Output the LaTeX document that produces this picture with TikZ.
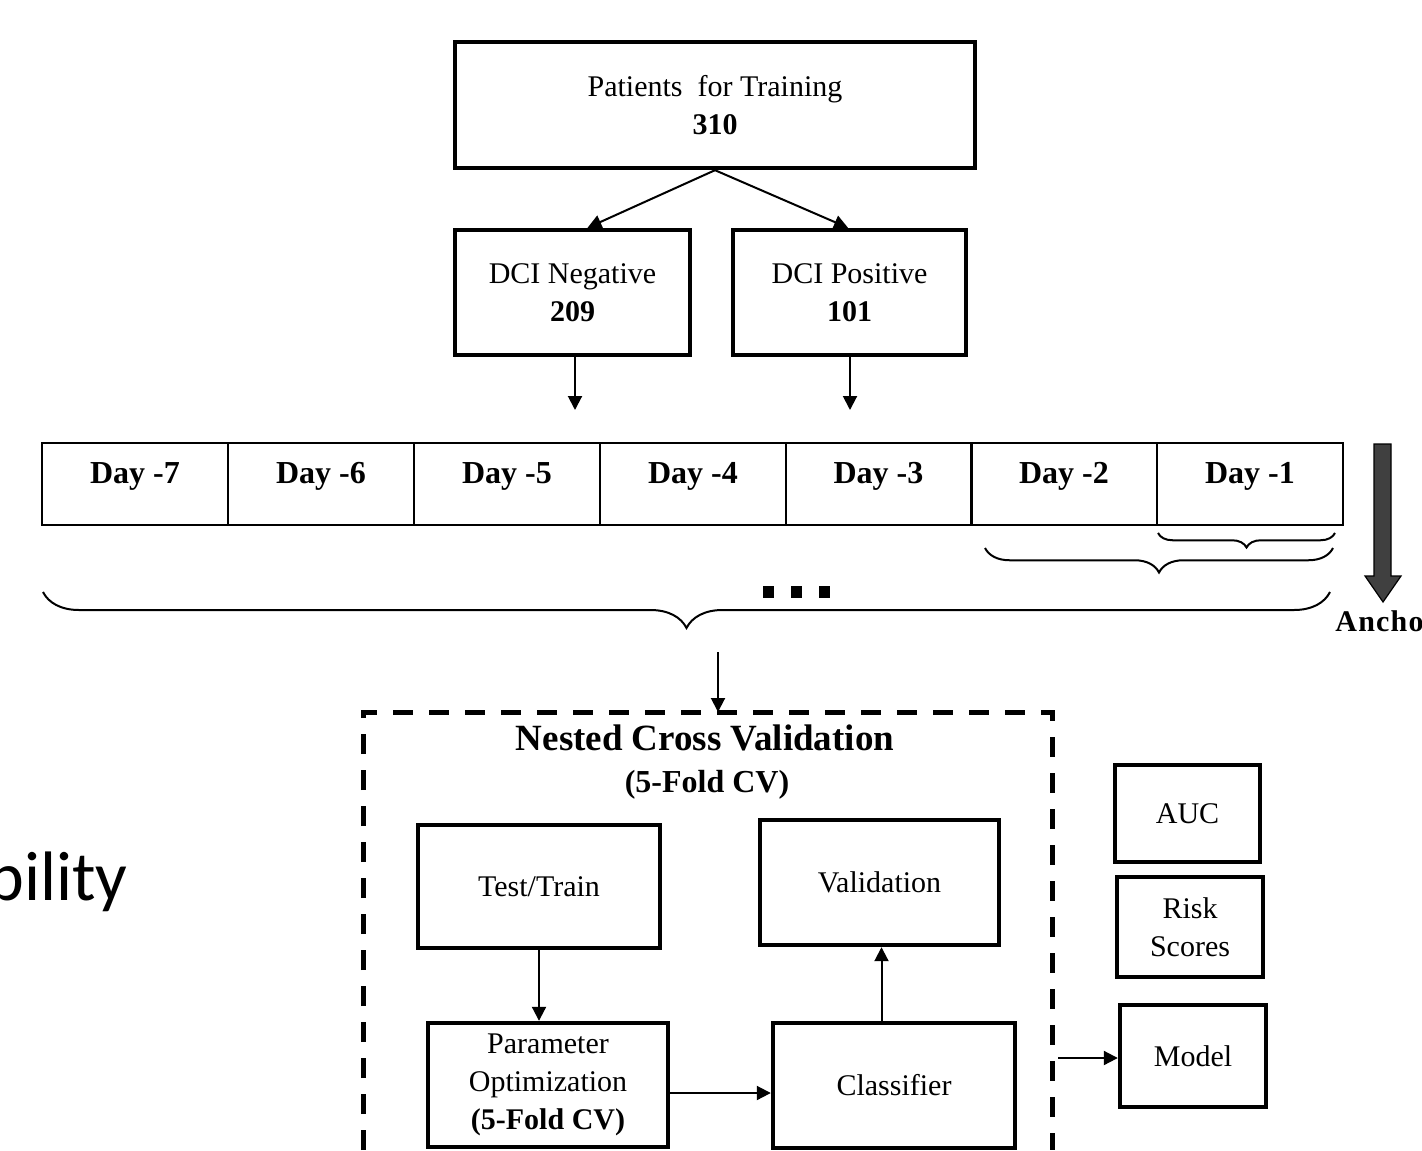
\documentclass[tikz,border=0pt]{standalone}
\usepackage{fontspec}
\setmainfont{Liberation Serif}
\newfontfamily\thinsans{Carlito}
\usetikzlibrary{arrows.meta,decorations.pathreplacing}

\begin{document}
\begin{tikzpicture}[x=0.5pt,y=-0.5pt,
  box/.style={draw, line width=2.2pt, inner sep=0pt, align=center,
              font=\fontsize{15}{19}\selectfont},
  daycell/.style={draw, line width=1pt, inner sep=0pt,
                  minimum width=93pt, minimum height=41pt},
  daytext/.style={font=\bfseries\fontsize{16}{19}\selectfont, inner sep=0pt},
  arr/.style={line width=1pt, -{Triangle[length=7pt,width=7pt]}},
  curly/.style={decorate, decoration={brace, mirror, amplitude=#1}, line width=1pt},
  frame/.style={line width=2.5pt, dash pattern=on 10pt off 8pt},
]
\useasboundingbox (0,0) rectangle (1422,1150);

% cohort split
\node[box, minimum width=260pt, minimum height=63pt] (train) at (715,105)
  {Patients\ \ for Training\\\textbf{310}};
\node[box, minimum width=117.5pt, minimum height=62.5pt] (neg) at (572.5,292.5)
  {DCI Negative\\\textbf{209}};
\node[box, minimum width=116.5pt, minimum height=62.5pt] (pos) at (849.5,292.5)
  {DCI Positive\\\textbf{101}};
\draw[arr] (train.south) -- ([xshift=7.5pt]neg.north);
\draw[arr] (train.south) -- ([xshift=-0.75pt]pos.north);
\coordinate (negdrop) at (575,410);
\coordinate (posdrop) at (850,410);
\draw[arr] (negdrop |- neg.south) -- (negdrop);
\draw[arr] (posdrop |- pos.south) -- (posdrop);

% day strip
\foreach \c/\n in {135/7, 321/6, 507/5, 693/4, 878.5/3, 1064/2, 1250/1}{
  \node[daycell] (d\n) at (\c,484) {};
  \node[daytext] (t\n) at ([yshift=4pt]d\n.center) {Day -\n};
}

% look-back windows
\draw[curly=7.25pt] (1158,533) -- (1335,533);
\draw[curly=12.25pt] (985,548) -- (1333,548);
\draw[curly=18pt] (43,592) -- (1330,592);
\foreach \x in {763,791,819}{
  \fill (\x,586) rectangle (\x+11,598);
}

% anchor marker
\draw[fill=black!75, line width=0.6pt]
  (1374,444) -- (1391,444) -- (1391,576) -- (1401,576) -- (1383,602)
  -- (1365,576) -- (1374,576) -- cycle;
\node[anchor=base west, inner sep=0pt, font=\bfseries\fontsize{15}{18}\selectfont] (anchorlbl)
  at (1335,631) {A\kern0.6pt n\kern0.6pt c\kern0.6pt h\kern0.6pt o};

% nested cross validation frame
\coordinate (bracetip) at (718,652);
\coordinate (ncvtop) at (718,712);
\draw[arr] (bracetip) -- (ncvtop);
\draw[frame] (363,1150) -- (363,712) -- (1052,712) -- (1052,1150);
\node[font=\bfseries\fontsize{18.5}{22}\selectfont] (ncvtitle) at (705,738) {Nested Cross Validation};
\node[font=\bfseries\fontsize{16}{19}\selectfont] (ncvsub) at (707,785) {(5-Fold CV)};

\node[box, minimum width=121pt, minimum height=61.5pt] (testtrain) at (539,886.5) {Test/Train};
\node[box, minimum width=119.5pt, minimum height=62.5pt] (valid) at (879.5,882.5) {Validation};
\node[box, minimum width=120pt, minimum height=62pt] (param) at (548,1085)
  {Parameter\\Optimization\\\textbf{(5-Fold CV)}};
\node[box, minimum width=121pt, minimum height=62.5pt] (classif) at (894,1085.5) {Classifier};

\draw[arr] (testtrain.south) -- (testtrain.south |- param.north);
\draw[arr] ([yshift=-4pt]param.east) -- ([yshift=-4pt]param.east -| classif.west);
\draw[arr] ([xshift=1pt]valid.south |- classif.north) -- ([xshift=1pt]valid.south);

% outputs
\node[box, minimum width=72.5pt, minimum height=48.5pt] (auc) at (1187.5,813.5) {AUC};
\node[box, minimum width=73pt, minimum height=50pt] (risk) at (1190,927) {Risk\\Scores};
\node[box, minimum width=73pt, minimum height=51pt] (model) at (1193,1056) {Model};
\coordinate (ncvout) at (1058,1058);
\draw[arr] (ncvout) -- (ncvout -| model.west);

% side caption
\node[anchor=base east, inner sep=0pt, font=\thinsans\fontsize{35}{40}\selectfont] (bility)
  at (128,900) {bility};
\end{tikzpicture}
\end{document}
